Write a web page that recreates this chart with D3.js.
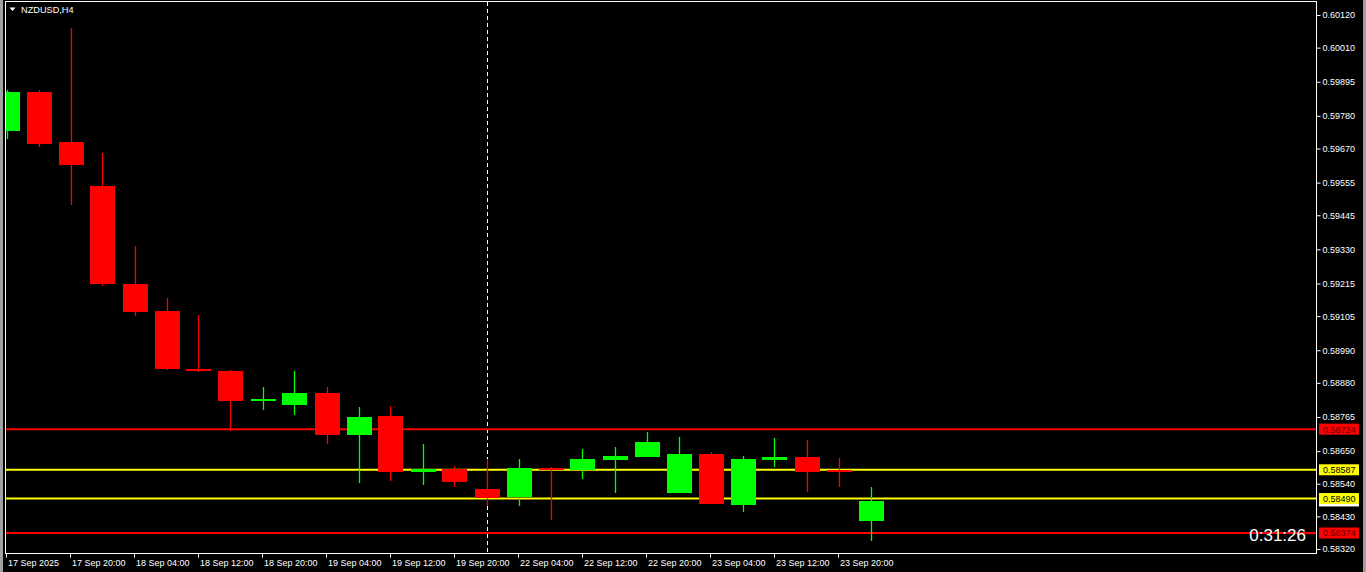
<!DOCTYPE html>
<html>
<head>
<meta charset="utf-8">
<script src="https://cdn.jsdelivr.net/npm/d3@7"></script>
<style>
  html, body { margin: 0; padding: 0; background: #000; overflow: hidden; }
  svg { display: block; }
  text { font-family: "Liberation Sans", Arial, sans-serif; }
</style>
</head>
<body>
<svg id="chart" width="1366" height="572"></svg>
<script>
// ---- data ----
const symbolTitle = "NZDUSD,H4";
const barIndex = [0,1,2,3,4,5,6,7,8,9,10,11,12,13,14,15,16,17,18,19,20,21,22,23,24,25,26,27];
const opens  = [0.59729,0.59860,0.59692,0.59544,0.59213,0.59122,0.58927,0.58920,0.58819,0.58805,0.58846,0.58704,0.58768,0.58580,0.58590,0.58522,0.58495,0.58593,0.58586,0.58620,0.58630,0.58509,0.58640,0.58468,0.58620,0.58630,0.58586,0.58414];
const highs  = [0.59867,0.59867,0.60076,0.59655,0.59341,0.59166,0.59109,0.58923,0.58866,0.58920,0.58866,0.58799,0.58802,0.58674,0.58600,0.58623,0.58623,0.58596,0.58657,0.58664,0.58714,0.58697,0.58647,0.58633,0.58694,0.58687,0.58627,0.58529];
const lows   = [0.59702,0.59675,0.59480,0.59207,0.59105,0.58923,0.58917,0.58718,0.58788,0.58772,0.58674,0.58542,0.58549,0.58536,0.58529,0.58465,0.58465,0.58418,0.58556,0.58509,0.58630,0.58509,0.58472,0.58445,0.58596,0.58512,0.58529,0.58347];
const closes = [0.59860,0.59685,0.59614,0.59213,0.59119,0.58927,0.58920,0.58819,0.58826,0.58846,0.58704,0.58765,0.58580,0.58590,0.58546,0.58492,0.58593,0.58586,0.58623,0.58633,0.58681,0.58640,0.58472,0.58623,0.58630,0.58580,0.58580,0.58482];

const priceTicks = [0.60120,0.60010,0.59895,0.59780,0.59670,0.59555,0.59445,0.59330,0.59215,0.59105,0.58990,0.58880,0.58765,0.58650,0.58540,0.58430,0.58320];
const timeTickIndex = [0,2,4,6,8,10,12,14,16,18,20,22,24,26];
const timeTickLabels = ["17 Sep 2025","17 Sep 20:00","18 Sep 04:00","18 Sep 12:00","18 Sep 20:00","19 Sep 04:00","19 Sep 12:00","19 Sep 20:00","22 Sep 04:00","22 Sep 12:00","22 Sep 20:00","23 Sep 04:00","23 Sep 12:00","23 Sep 20:00"];

const levelPrices = [0.58724, 0.58587, 0.58490, 0.58374];
const levelColors = ["#ff0000", "#ffff00", "#ffff00", "#ff0000"];
const separatorIndex = 15;
const countdownText = "0:31:26";

// ---- layout ----
const svg = d3.select("#chart");
const W = 1366, H = 572;
const plot = { left: 5.5, right: 1316.5, top: 1.5, bottom: 553.5 };

const y = d3.scaleLinear().domain([0.58320, 0.60120]).range([549, 15]);
const x = d3.scaleLinear().domain([0, 27]).range([6.5, 870.5]);
const bodyW = 25;

svg.append("rect").attr("width", W).attr("height", H).attr("fill", "#000");
// grey window borders
svg.append("rect").attr("x", 0).attr("y", 0).attr("width", 3).attr("height", H).attr("fill", "#a0a0a0");
svg.append("rect").attr("x", 1363).attr("y", 0).attr("width", 3).attr("height", H).attr("fill", "#a0a0a0");

svg.append("clipPath").attr("id", "clip").append("rect")
  .attr("x", 6).attr("y", 2).attr("width", plot.right - 6).attr("height", plot.bottom - 2);

const g = svg.append("g").attr("clip-path", "url(#clip)");

// separator dashed line
g.append("line")
  .attr("x1", Math.round(x(separatorIndex)) + 0.5).attr("x2", Math.round(x(separatorIndex)) + 0.5)
  .attr("y1", 2).attr("y2", plot.bottom)
  .attr("stroke", "#fff").attr("stroke-width", 1).attr("stroke-dasharray", "4,3");

// level lines
g.selectAll("line.level").data(levelPrices).join("line")
  .attr("class", "level")
  .attr("x1", 6).attr("x2", plot.right)
  .attr("y1", d => y(d)).attr("y2", d => y(d))
  .attr("stroke", (d, i) => levelColors[i]).attr("stroke-width", 2);

// candles
const candles = barIndex.map((k, i) => ({ k, o: opens[i], h: highs[i], l: lows[i], c: closes[i] }));
const color = d => d.c >= d.o ? "#00ff00" : "#ff0000";

g.selectAll("line.wick").data(candles).join("line")
  .attr("class", "wick")
  .attr("x1", d => Math.round(x(d.k)) + 0.5).attr("x2", d => Math.round(x(d.k)) + 0.5)
  .attr("y1", d => Math.round(y(d.h))).attr("y2", d => Math.round(y(d.l)))
  .attr("stroke", color).attr("stroke-width", 1.3);

g.selectAll("rect.body").data(candles).join("rect")
  .attr("class", "body")
  .attr("x", d => Math.round(x(d.k)) - 12)
  .attr("width", bodyW)
  .attr("y", d => Math.round(y(Math.max(d.o, d.c))))
  .attr("height", d => Math.max(2, Math.round(Math.abs(y(d.o) - y(d.c)))))
  .attr("fill", color);

// frame
svg.append("rect")
  .attr("x", plot.left).attr("y", plot.top)
  .attr("width", plot.right - plot.left).attr("height", plot.bottom - plot.top)
  .attr("fill", "none").attr("stroke", "#fff").attr("stroke-width", 1);

// right price axis
const yAxis = d3.axisRight(y).tickValues(priceTicks).tickSize(4).tickPadding(2)
  .tickFormat(d3.format(".5f"));
const ya = svg.append("g").attr("transform", `translate(${plot.right},0)`).call(yAxis);
ya.select(".domain").remove();
ya.selectAll(".tick line").attr("stroke", "#fff");
ya.selectAll(".tick text").attr("fill", "#fff").attr("font-size", 9)
  .attr("font-family", "Liberation Sans, Arial, sans-serif");

// bottom time axis
const xAxis = d3.axisBottom(x).tickValues(timeTickIndex).tickSize(4)
  .tickFormat((d, i) => timeTickLabels[i]);
const xa = svg.append("g").attr("transform", `translate(0,${plot.bottom})`).call(xAxis);
xa.select(".domain").remove();
xa.selectAll(".tick line").attr("stroke", "#fff").attr("transform", "translate(-0.5,0)");
xa.selectAll(".tick text").attr("fill", "#fff").attr("font-size", 9)
  .attr("font-family", "Liberation Sans, Arial, sans-serif")
  .attr("text-anchor", "start").attr("x", 1).attr("dy", null).attr("y", 12.5);

// current price label (white, partially hidden)
const lastClose = closes[closes.length - 1];
svg.append("rect").attr("x", 1319).attr("y", y(lastClose) - 5.5)
  .attr("width", 40).attr("height", 11).attr("fill", "#fff");

// level labels
const lbl = svg.selectAll("g.lvl").data(levelPrices).join("g").attr("class", "lvl")
  .attr("transform", d => `translate(1319,${y(d)})`);
lbl.append("rect").attr("x", 0).attr("y", -5.5).attr("width", 40).attr("height", 11)
  .attr("fill", (d, i) => levelColors[i]);
lbl.append("text").attr("x", 4).attr("y", 3.5).attr("font-size", 9)
  .attr("fill", (d, i) => levelColors[i] === "#ff0000" ? "#5a0000" : "#000")
  .text(d => d3.format(".5f")(d));

// title
svg.append("path").attr("d", "M9.5,7.5 L15.5,7.5 L12.5,11 Z").attr("fill", "#fff");
svg.append("text").attr("x", 21).attr("y", 12.5).attr("font-size", 9.2).attr("fill", "#fff").text(symbolTitle);

// countdown
svg.append("text").attr("x", 1306).attr("y", 541).attr("text-anchor", "end")
  .attr("font-size", 17).attr("fill", "#fff").text(countdownText);
</script>
</body>
</html>
